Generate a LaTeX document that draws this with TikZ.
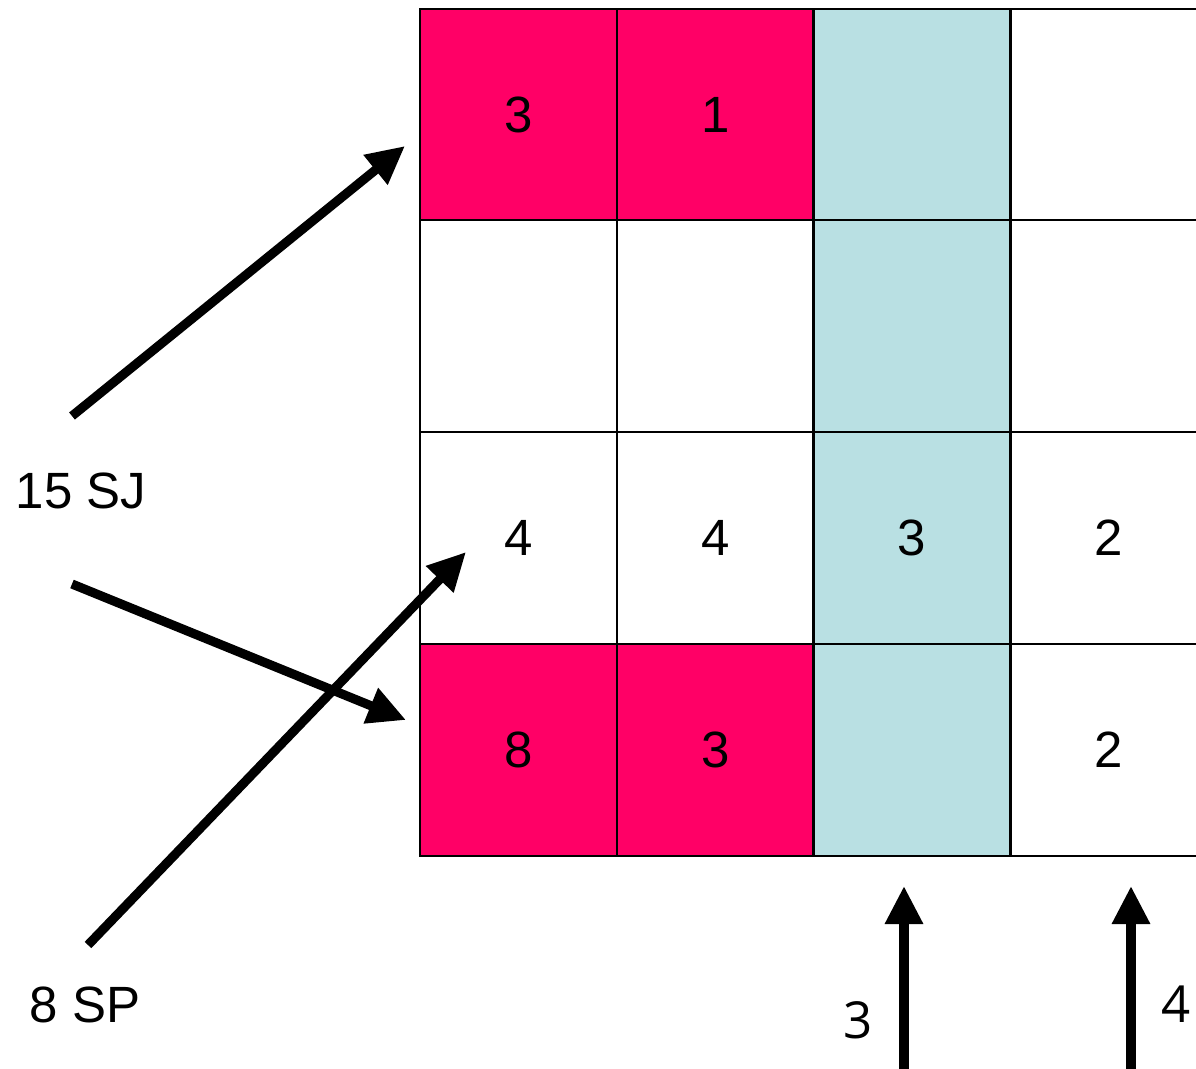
\documentclass[tikz,border=0pt]{standalone}
\usepackage{fontspec}
\setmainfont{Liberation Sans}
\newfontfamily\numfont{Open Sans}
\usepackage{tikz}
\usetikzlibrary{arrows.meta,positioning}
\definecolor{mypink}{RGB}{255,0,102}
\definecolor{myblue}{RGB}{185,224,227}

\begin{document}
\begin{tikzpicture}[x=0.01cm,y=-0.01cm,
  cell/.style={draw,line width=0.6pt,minimum width=1.97cm,minimum height=2.115cm,inner sep=0pt,font=\fontsize{14.5}{16}\selectfont},
  hot/.style={cell,fill=mypink},
  cold/.style={cell,fill=myblue},
  push/.style={line width=2.6pt,-{Triangle[length=0.38cm,width=0.36cm]}},
  lbl/.style={inner sep=0pt,font=\fontsize{14.5}{16}\selectfont}]
\useasboundingbox (0,0) rectangle (1196,1069);
\clip (0,0) rectangle (1196,1069);
% grid
\node[hot]  (c11) at (518.5,114.5) {3};
\node[hot]  (c12) at (715.5,114.5) {1};
\node[cold] (c13) at (912,114.5) {};
\node[cell] (c14) at (1108.5,114.5) {};
\node[cell] (c21) at (518.5,326) {};
\node[cell] (c22) at (715.5,326) {};
\node[cold] (c23) at (912,326) {};
\node[cell] (c24) at (1108.5,326) {};
\node[cell] (c31) at (518.5,538) {4};
\node[cell] (c32) at (715.5,538) {4};
\node[cold] (c33) at (912,538) {3};
\node[cell] (c34) at (1108.5,538) {2};
\node[hot]  (c41) at (518.5,750) {8};
\node[hot]  (c42) at (715.5,750) {3};
\node[cold] (c43) at (912,750) {};
\node[cell] (c44) at (1108.5,750) {2};
% labels
\node[lbl] (sj) at (81,491) {15 SJ};
\node[lbl] (sp) at (85,1005) {8 SP};
\node[lbl,font=\numfont\fontsize{14.5}{16}\selectfont] (n3) at (858,1020) {3};
\node[lbl,font=\numfont\fontsize{14.5}{16}\selectfont] (n4) at (1176,1004) {4};
% arrow ends
\coordinate (a1) at (72,416);  \coordinate (b1) at (405,146);
\coordinate (a2) at (72,584);  \coordinate (b2) at (406,720);
\coordinate (a3) at (88,945);  \coordinate (b3) at (466,552);
\coordinate (a4) at (904,1075); \coordinate (b4) at (904,886);
\coordinate (a5) at (1131,1075); \coordinate (b5) at (1131,886);
\draw[push] (a1) -- (b1);
\draw[push] (a2) -- (b2);
\draw[push] (a3) -- (b3);
\draw[push] (a4) -- (b4);
\draw[push] (a5) -- (b5);
\end{tikzpicture}
\end{document}
